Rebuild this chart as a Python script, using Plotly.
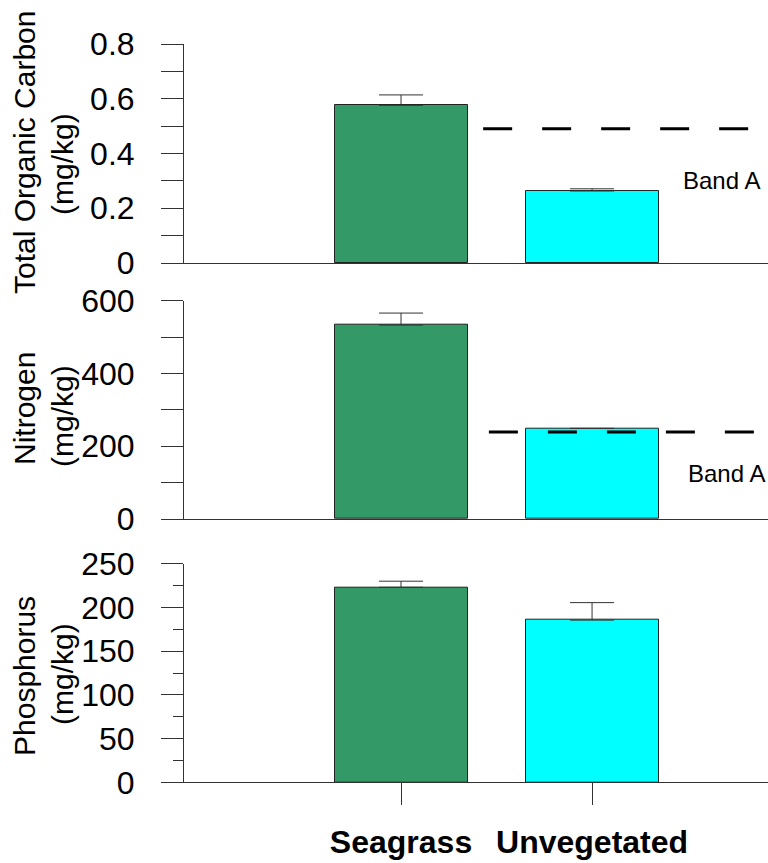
import plotly.graph_objects as go

categories = ["Seagrass", "Unvegetated"]
cat_pos = [0, 1]

toc_values = [0.576, 0.263]
toc_err = [0.038, 0.008]
toc_band = 0.49

nit_values = [533, 249]
nit_err = [33, 0]
nit_band = 239

phos_values = [223, 185.5]
phos_err = [7, 20]

bar_colors = ["#339966", "#00FFFF"]

FONT = "Arial, Liberation Sans, sans-serif"
AX = "#333333"
W, H = 768, 863

def ydom(top_px, bot_px):
    return [1 - bot_px / H, 1 - top_px / H]

fig = go.Figure()

def add_panel(vals, errs, xa, ya):
    fig.add_trace(go.Bar(
        x=cat_pos, y=vals, width=0.696,
        marker=dict(color=bar_colors, line=dict(color="#222222", width=1)),
        error_y=dict(type="data", array=errs, arrayminus=[0, 0], symmetric=False,
                     color=AX, thickness=1, width=22),
        xaxis=xa, yaxis=ya, showlegend=False, hoverinfo="skip"))

add_panel(toc_values, toc_err, "x3", "y3")
add_panel(nit_values, nit_err, "x2", "y2")
add_panel(phos_values, phos_err, "x", "y")

# Band A threshold lines
fig.add_trace(go.Scatter(x=[0.43, 2.1], y=[toc_band, toc_band], mode="lines",
                         line=dict(color="black", width=3, dash="29px,30px"),
                         xaxis="x3", yaxis="y3", showlegend=False, hoverinfo="skip"))
fig.add_trace(go.Scatter(x=[0.46, 2.1], y=[nit_band, nit_band], mode="lines",
                         line=dict(color="black", width=3, dash="29px,30px"),
                         xaxis="x2", yaxis="y2", showlegend=False, hoverinfo="skip"))

xrange = [-1.136, 1.921]
xdom = [184 / W, 1]

def xaxis(anchor, show_ticks):
    d = dict(domain=xdom, range=xrange, anchor=anchor, showline=True, linecolor=AX,
             linewidth=1, showgrid=False, zeroline=False, fixedrange=True, automargin=False)
    if show_ticks:
        d.update(tickvals=cat_pos, ticktext=["<b>%s</b>" % c for c in categories],
                 ticks="outside", ticklen=22, tickcolor=AX, tickwidth=1,
                 tickfont=dict(family=FONT, size=32, color="black"),
                 ticklabelstandoff=9)
    else:
        d.update(showticklabels=False, ticks="")
    return d

def yaxis(anchor, dom, rng, tickvals, ticktext, ticklen=22, minor=None):
    d = dict(domain=dom, range=rng, anchor=anchor, showline=True, linecolor=AX,
             linewidth=1, showgrid=False, zeroline=False, tickvals=tickvals,
             ticktext=ticktext, ticks="outside", ticklen=ticklen, tickcolor=AX,
             tickwidth=1, tickfont=dict(family=FONT, size=32, color="black"),
             ticklabelstandoff=20, fixedrange=True, automargin=False)
    if minor:
        d["minor"] = minor
    return d

toc_ticks = [0, 0.1, 0.2, 0.3, 0.4, 0.5, 0.6, 0.7, 0.8]
toc_text = ["0", "", "0.2", "", "0.4", "", "0.6", "", "0.8"]
nit_ticks = [0, 100, 200, 300, 400, 500, 600]
nit_text = ["0", "", "200", "", "400", "", "600"]
phos_ticks = [0, 50, 100, 150, 200, 250]
phos_text = ["0", "50", "100", "150", "200", "250"]

fig.update_layout(
    width=W, height=H, margin=dict(l=0, r=0, t=0, b=0, autoexpand=False),
    paper_bgcolor="white", plot_bgcolor="white",
    xaxis=xaxis("y", True),
    xaxis2=xaxis("y2", False),
    xaxis3=xaxis("y3", False),
    yaxis=yaxis("x", ydom(563.7, 782.3), [0, 250], phos_ticks, phos_text,
                minor=dict(dtick=25, tick0=0, ticks="outside", ticklen=10, tickcolor=AX, tickwidth=1)),
    yaxis2=yaxis("x2", ydom(300.7, 519), [0, 600], nit_ticks, nit_text),
    yaxis3=yaxis("x3", ydom(44, 263), [0, 0.8], toc_ticks, toc_text),
    bargap=0,
)

def ytitle(text, xpx, ypx):
    fig.add_annotation(text=text, xref="paper", yref="paper", x=xpx / W, y=1 - ypx / H,
                       xanchor="center", yanchor="middle", textangle=-90, showarrow=False,
                       font=dict(family=FONT, size=30, color="black"))

ytitle("Total Organic Carbon", 24, 153)
ytitle("(mg/kg)", 62, 164)
ytitle("Nitrogen", 24, 409)
ytitle("(mg/kg)", 62, 416)
ytitle("Phosphorus", 24, 676)
ytitle("(mg/kg)", 62, 674)

fig.add_annotation(text="Band A", xref="x3", yref="y3", x=1.466, y=0.303,
                   xanchor="left", yanchor="middle", showarrow=False,
                   font=dict(family=FONT, size=24, color="black"))
fig.add_annotation(text="Band A", xref="x2", yref="y2", x=1.493, y=126,
                   xanchor="left", yanchor="middle", showarrow=False,
                   font=dict(family=FONT, size=24, color="black"))

fig.write_html("out.html", config={"displayModeBar": False},
               post_script="document.body.style.margin='0';")
